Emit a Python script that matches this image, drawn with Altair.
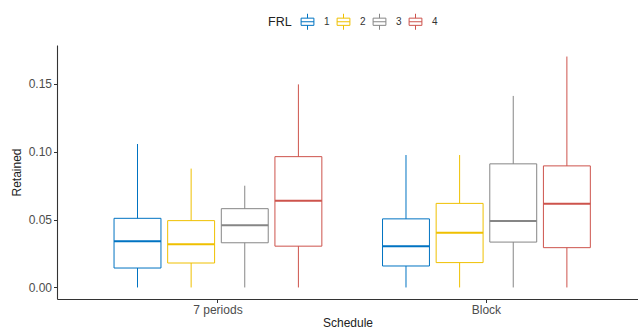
import altair as alt
import pandas as pd

schedule = ["7 periods"] * 4 + ["Block"] * 4
frl = ["1", "2", "3", "4"] * 2
lower = [0.0, 0.0, 0.0, 0.0, 0.0, 0.0, 0.0, 0.0]
q1 = [0.0143, 0.0180, 0.0329, 0.0304, 0.0158, 0.0183, 0.0334, 0.0293]
median = [0.0341, 0.0319, 0.0458, 0.0639, 0.0304, 0.0402, 0.0490, 0.0617]
q3 = [0.0509, 0.0492, 0.0580, 0.0963, 0.0505, 0.0619, 0.0910, 0.0895]
upper = [0.1056, 0.0875, 0.0749, 0.1495, 0.0975, 0.0975, 0.1410, 0.1700]
colors = ["#0073C2", "#EFC000", "#868686", "#CD534C"]

df = pd.DataFrame({"Schedule": schedule, "FRL": frl, "lower": lower, "q1": q1,
                   "median": median, "q3": q3, "upper": upper})

FONT = "Liberation Sans"
glyph = "M-0.8,-0.45H0.8V0.45H-0.8Z M-0.8,0H0.8 M0,-0.45V-1 M0,0.45V1"

x = alt.X("Schedule:N", title="Schedule",
          scale=alt.Scale(paddingInner=0.2, paddingOuter=0.182, align=0.548),
          axis=alt.Axis(labelAngle=0))
xo = alt.XOffset("FRL:N", scale=alt.Scale(paddingInner=0.125, paddingOuter=0.065))
yscale = alt.Scale(domain=[-0.0085, 0.1785], nice=False, zero=False)
color = alt.Color("FRL:N", scale=alt.Scale(domain=["1", "2", "3", "4"], range=colors),
                  legend=alt.Legend(title="FRL", orient="none", direction="horizontal",
                                    legendX=211, legendY=-32, titleOrient="left",
                                    symbolType=glyph, symbolSize=256,
                                    symbolStrokeWidth=1, symbolFillColor="white",
                                    labelOffset=8, columnPadding=5, titlePadding=7,
                                    titleFontSize=12.5, titleFontWeight="normal",
                                    labelFontSize=10, titleFont=FONT, labelFont=FONT,
                                    titleColor="#222222", labelColor="#333333",
                                    titleBaseline="middle"))

base = alt.Chart(df)

w_low = base.mark_rule(strokeWidth=1).encode(
    x=x, xOffset=xo,
    y=alt.Y("lower:Q", scale=yscale, title="Retained",
            axis=alt.Axis(values=[0, 0.05, 0.1, 0.15], format=".2f")),
    y2="q1:Q", color=color)
w_high = base.mark_rule(strokeWidth=1).encode(
    x=x, xOffset=xo, y=alt.Y("q3:Q", scale=yscale), y2="upper:Q", color=color)
box = base.mark_bar(filled=False, strokeWidth=1).encode(
    x=x, xOffset=xo, y=alt.Y("q1:Q", scale=yscale), y2="q3:Q", color=color)
med = base.mark_bar(filled=False, strokeWidth=2).encode(
    x=x, xOffset=xo, y=alt.Y("median:Q", scale=yscale), y2="median:Q", color=color)

chart = alt.layer(w_low, w_high, box, med).properties(
    width=581, height=254,
    autosize=alt.AutoSizeParams(type="none"),
    padding={"left": 57, "top": 45, "right": 0, "bottom": 33},
).configure_view(stroke=None).configure_axis(
    grid=False, domainColor="#333333", domainWidth=1.1,
    tickColor="#333333", tickSize=3.5, tickWidth=1,
    labelFont=FONT, labelFontSize=12, labelColor="#4d4d4d", labelPadding=2,
    titleFont=FONT, titleFontSize=12, titleFontWeight="normal", titleColor="#222222",
).configure_axisY(titlePadding=5).configure_axisX(titlePadding=2, labelPadding=2)

chart.save("out.html", embed_options={"renderer": "svg", "actions": False})
